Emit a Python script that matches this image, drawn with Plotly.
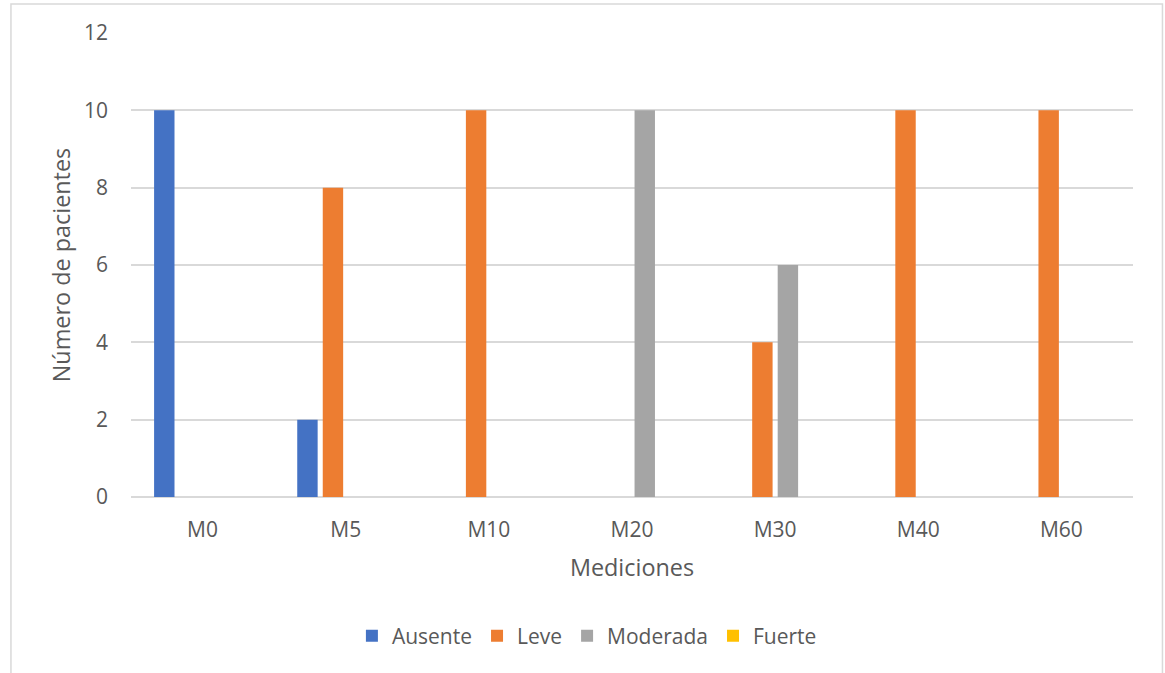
import plotly.graph_objects as go

categories = ["M0", "M5", "M10", "M20", "M30", "M40", "M60"]
ausente = [10, 2, 0, 0, 0, 0, 0]
leve = [0, 8, 10, 0, 4, 10, 10]
moderada = [0, 0, 0, 10, 6, 0, 0]
fuerte = [0, 0, 0, 0, 0, 0, 0]
y_ticks = [0, 2, 4, 6, 8, 10, 12]

series = [
    ("Ausente", ausente, "#4472C4"),
    ("Leve", leve, "#ED7D31"),
    ("Moderada", moderada, "#A5A5A5"),
    ("Fuerte", fuerte, "#FFC000"),
]

FONT = "Open Sans"
TXT = "#595959"

fig = go.Figure()
for name, vals, color in series:
    fig.add_trace(go.Bar(
        x=categories, y=vals, name=name,
        marker=dict(color=color, line=dict(width=0)),
    ))

fig.update_layout(
    width=1165, height=673,
    barmode="group", bargap=0.287, bargroupgap=0.2,
    paper_bgcolor="white", plot_bgcolor="white",
    margin=dict(l=131, r=32, t=33, b=176),
    font=dict(family=FONT, color=TXT, size=21),
    showlegend=True,
    legend=dict(
        orientation="h", x=0.455, xanchor="center", y=-0.3, yanchor="middle",
        font=dict(size=21, color=TXT), itemwidth=30, traceorder="normal",
    ),
    xaxis=dict(
        showgrid=False, showline=False, ticks="", ticklabelstandoff=18,
        tickfont=dict(size=21, color=TXT),
        title=dict(text="Mediciones", font=dict(size=23.4, color=TXT), standoff=17),
    ),
    yaxis=dict(
        range=[0, 12], tickvals=y_ticks, showgrid=True,
        gridcolor="#D9D9D9", gridwidth=1.5,
        zeroline=True, zerolinecolor="#D9D9D9", zerolinewidth=1.5,
        showline=False, ticks="", ticklabelstandoff=22,
        tickfont=dict(size=21, color=TXT),
        title=dict(text="Número de pacientes", font=dict(size=23.4, color=TXT), standoff=6),
    ),
    shapes=[dict(
        type="rect", xref="paper", yref="paper",
        x0=-0.1198, x1=1.0294, y0=-0.5, y1=1.0625,
        line=dict(color="#D9D9D9", width=1.5), fillcolor="rgba(0,0,0,0)", layer="below",
    )],
)

fig.write_html("out.html")
